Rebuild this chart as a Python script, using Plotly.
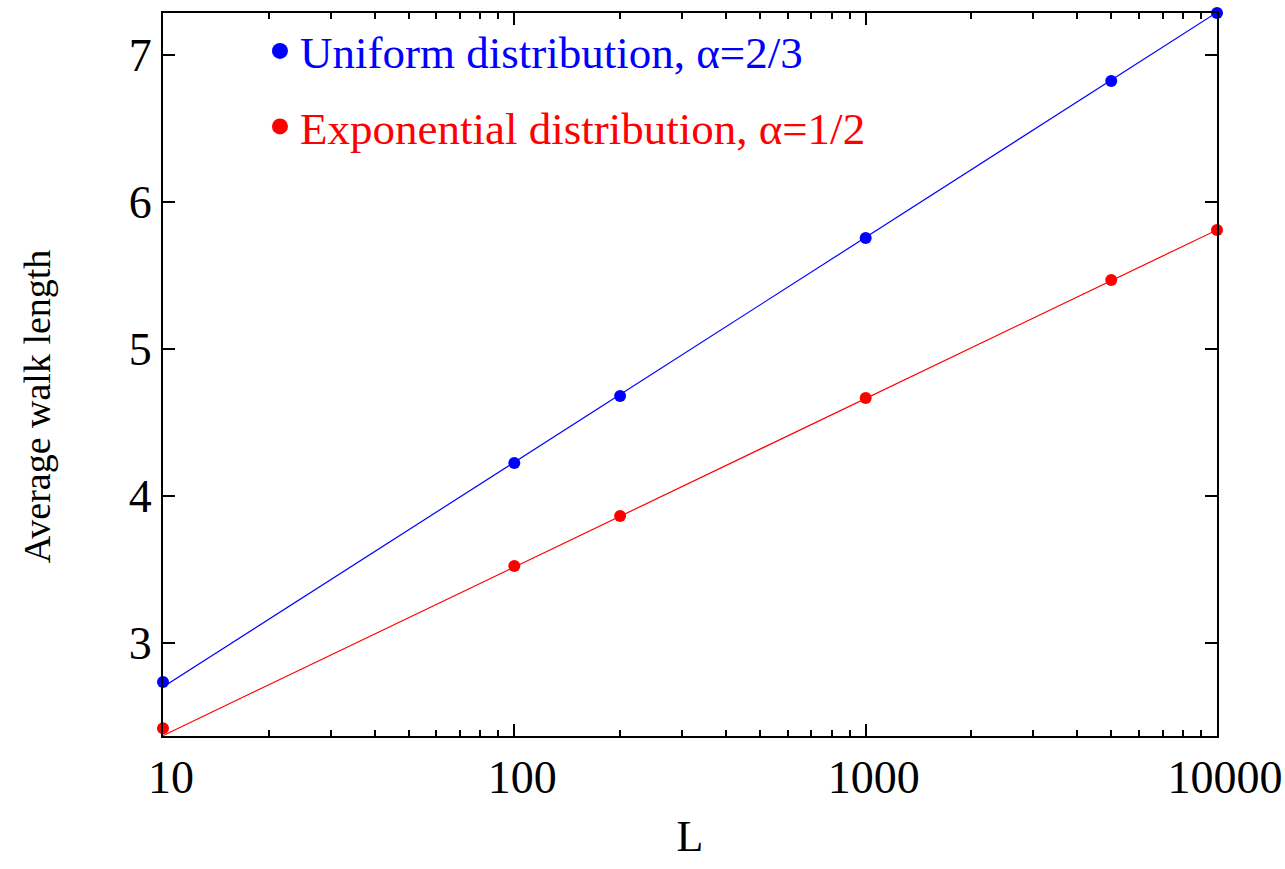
import plotly.graph_objects as go

# Data
L = [10, 100, 200, 1000, 5000, 10000]
uniform = [2.735, 4.224, 4.68, 5.755, 6.823, 7.286]
exponential = [2.42, 3.524, 3.864, 4.667, 5.469, 5.81]

# fitted straight lines (endpoints)
fit_L = [10, 10000]
uniform_fit = [2.70, 7.29]
exponential_fit = [2.37, 5.81]

x_ticks = [10, 100, 1000, 10000]
x_tick_text = ["10", "100", "1000", "10000"]
y_ticks = [3, 4, 5, 6, 7]

uniform_name = "Uniform distribution, α=2/3"
exponential_name = "Exponential distribution, α=1/2"
x_title = "L"
y_title = "Average walk length"

BLUE = "#0000ff"
RED = "#ff0000"
FONT = "Liberation Serif"

fig = go.Figure()
fig.add_trace(go.Scatter(x=fit_L, y=uniform_fit, mode="lines",
                         line=dict(color=BLUE, width=1.2), showlegend=False,
                         hoverinfo="skip"))
fig.add_trace(go.Scatter(x=fit_L, y=exponential_fit, mode="lines",
                         line=dict(color=RED, width=1.2), showlegend=False,
                         hoverinfo="skip"))
fig.add_trace(go.Scatter(x=L, y=uniform, mode="markers",
                         marker=dict(color=BLUE, size=12),
                         showlegend=False, cliponaxis=False))
fig.add_trace(go.Scatter(x=L, y=exponential, mode="markers",
                         marker=dict(color=RED, size=12),
                         showlegend=False, cliponaxis=False))
# legend-only entries (bigger symbols, coloured text)
fig.add_trace(go.Scatter(x=[None], y=[None], mode="markers",
                         marker=dict(color=BLUE, size=16),
                         name=f"<span style='color:{BLUE}'>{uniform_name}</span>",
                         legendgroup="u"))
fig.add_trace(go.Scatter(x=[None], y=[None], mode="markers",
                         marker=dict(color=RED, size=16),
                         name=f"<span style='color:{RED}'>{exponential_name}</span>",
                         legendgroup="e"))

fig.update_layout(
    width=1285, height=869,
    margin=dict(l=163, r=68, t=13, b=133),
    paper_bgcolor="white", plot_bgcolor="white",
    font=dict(family=FONT, size=45, color="black"),
    showlegend=True,
    legend=dict(x=0.092, y=0.997, xanchor="left", yanchor="top",
                bgcolor="rgba(0,0,0,0)", font=dict(family=FONT, size=45),
                tracegroupgap=14, itemsizing="trace"),
    xaxis=dict(type="log", range=[1, 4], automargin=False,
               tickvals=x_ticks, ticktext=x_tick_text,
               ticks="inside", ticklen=12, tickwidth=1.5, tickcolor="black",
               showline=True, linecolor="black", linewidth=2, mirror="ticks",
               showgrid=False, zeroline=False,
               ticklabelshift=8,
               minor=dict(ticks="inside", ticklen=6, tickwidth=1.5,
                          tickcolor="black", dtick="D1", showgrid=False),
               title=dict(text=x_title, font=dict(family=FONT, size=44), standoff=18),
               tickfont=dict(family=FONT, size=46)),
    yaxis=dict(range=[2.367, 7.286], tickvals=y_ticks, automargin=False,
               ticks="inside", ticklen=12, tickwidth=1.5, tickcolor="black",
               showline=True, linecolor="black", linewidth=2, mirror="ticks",
               showgrid=False, zeroline=False,
               tickfont=dict(family=FONT, size=46)),
    annotations=[dict(text=y_title, textangle=-90, xref="paper", yref="paper",
                      x=-0.1195, y=0.456, xanchor="center", yanchor="middle",
                      showarrow=False, font=dict(family=FONT, size=38, color="black"))],
)

fig.write_html("out.html")
